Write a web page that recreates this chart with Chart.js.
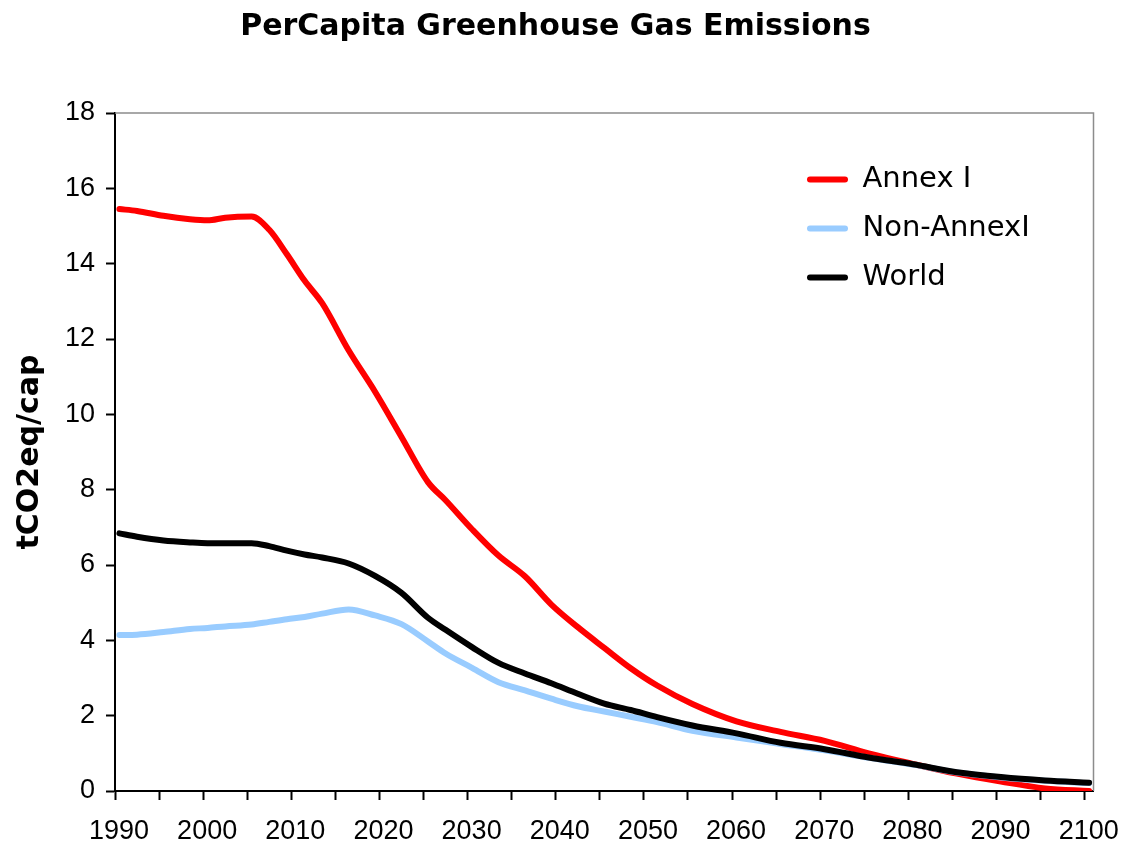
<!DOCTYPE html>
<html>
<head>
<meta charset="utf-8">
<script src="https://cdn.jsdelivr.net/npm/chart.js@4.4.0/dist/chart.umd.min.js"></script>
<style>
  html, body { margin: 0; padding: 0; background: #ffffff; }
  #c { display: block; }
</style>
</head>
<body>
<canvas id="c" width="1130" height="848"></canvas>
<script>
// ---- Data ----
const years = [1990, 1992, 1995, 1998, 2000, 2002, 2005, 2007, 2009, 2011, 2013, 2016, 2019, 2022, 2025, 2027, 2030, 2033, 2036, 2039, 2042, 2045, 2048, 2051, 2055, 2060, 2065, 2070, 2075, 2080, 2085, 2090, 2095, 2100];

const annexI = [15.45, 15.40, 15.27, 15.18, 15.15, 15.22, 15.25, 14.90, 14.25, 13.55, 12.95, 11.70, 10.60, 9.40, 8.20, 7.72, 6.95, 6.25, 5.70, 4.95, 4.35, 3.80, 3.26, 2.80, 2.31, 1.85, 1.57, 1.33, 1.00, 0.72, 0.46, 0.25, 0.07, 0.00];

const nonAnnexI = [4.14, 4.15, 4.22, 4.30, 4.33, 4.37, 4.42, 4.49, 4.56, 4.62, 4.71, 4.82, 4.66, 4.43, 3.97, 3.65, 3.27, 2.89, 2.67, 2.45, 2.25, 2.11, 1.97, 1.83, 1.60, 1.42, 1.25, 1.08, 0.88, 0.70, 0.49, 0.36, 0.27, 0.21];

const world = [6.84, 6.75, 6.65, 6.60, 6.58, 6.58, 6.58, 6.50, 6.38, 6.28, 6.20, 6.04, 5.71, 5.26, 4.60, 4.28, 3.82, 3.40, 3.12, 2.86, 2.58, 2.32, 2.15, 1.96, 1.74, 1.53, 1.28, 1.11, 0.89, 0.71, 0.50, 0.37, 0.28, 0.22];

const seriesNames = ['Annex I', 'Non-AnnexI', 'World'];
const seriesColors = ['#FF0000', '#99CCFF', '#000000'];

const xTickYears = [1990, 1995, 2000, 2005, 2010, 2015, 2020, 2025, 2030, 2035, 2040, 2045, 2050, 2055, 2060, 2065, 2070, 2075, 2080, 2085, 2090, 2095, 2100];
const xLabelYears = [1990, 2000, 2010, 2020, 2030, 2040, 2050, 2060, 2070, 2080, 2090, 2100];
const yTickValues = [0, 2, 4, 6, 8, 10, 12, 14, 16, 18];

const chartTitle = 'PerCapita Greenhouse Gas Emissions';
const yAxisTitle = 'tCO2eq/cap';

// ---- Helpers ----
function pts(values) {
  return years.map((yr, i) => ({ x: yr, y: values[i] }));
}

// Plot-area frame (top and right edges), drawn from the chart area
const framePlugin = {
  id: 'frame',
  beforeDatasetsDraw(chart) {
    const a = chart.chartArea, ctx = chart.ctx;
    ctx.save();
    ctx.strokeStyle = '#8c8c8c';
    ctx.lineWidth = 1.5;
    ctx.beginPath();
    ctx.moveTo(a.left, a.top);
    ctx.lineTo(a.right, a.top);
    ctx.lineTo(a.right, a.bottom);
    ctx.stroke();
    ctx.restore();
  }
};

// Place the legend inside the plot area, upper right
const legendPlace = {
  id: 'legendPlace',
  afterLayout(chart) {
    const lg = chart.legend, a = chart.chartArea;
    if (!lg) return;
    const w = lg.width, h = lg.height;
    lg.left = a.left + 672;
    lg.top = a.top + 32;
    lg.right = lg.left + w;
    lg.bottom = lg.top + h;
  }
};

const datasets = [annexI, nonAnnexI, world].map((vals, i) => ({
  label: seriesNames[i],
  data: pts(vals),
  borderColor: seriesColors[i],
  backgroundColor: seriesColors[i],
  borderWidth: 6,
  pointRadius: 0,
  pointHoverRadius: 0,
  fill: false,
  cubicInterpolationMode: 'monotone',
  borderCapStyle: 'round',
  borderJoinStyle: 'round',
  order: 2 - i
}));

new Chart(document.getElementById('c'), {
  type: 'line',
  data: { datasets },
  plugins: [framePlugin, legendPlace],
  options: {
    responsive: false,
    devicePixelRatio: 1,
    animation: false,
    events: [],
    layout: { padding: { left: 12, right: 31, top: 0, bottom: 0 } },
    plugins: {
      tooltip: { enabled: false },
      title: {
        display: true,
        text: chartTitle,
        color: '#000',
        font: { family: 'DejaVu Sans', size: 30, weight: 'bold' },
        padding: { top: 9, bottom: 68 }
      },
      legend: {
        position: 'chartArea',
        align: 'start',
        labels: {
          boxWidth: 41,
          boxHeight: 6,
          padding: 20,
          color: '#000',
          useBorderRadius: true,
          borderRadius: 3,
          font: { family: 'DejaVu Sans', size: 29 },
          sort: (a, b) => a.datasetIndex - b.datasetIndex,
          generateLabels(chart) {
            const items = Chart.defaults.plugins.legend.labels.generateLabels(chart);
            return items.map(it => Object.assign(it, { lineWidth: 0 }));
          }
        }
      }
    },
    scales: {
      x: {
        type: 'linear',
        min: xTickYears[0] - 0.5,
        max: xTickYears[xTickYears.length - 1] + 0.5,
        afterBuildTicks(scale) {
          scale.ticks = xTickYears.map(yr => ({ value: yr - 0.5 }));
        },
        afterFit(scale) { scale.height = 57; },
        ticks: {
          autoSkip: false,
          maxRotation: 0,
          minRotation: 0,
          padding: 15,
          labelOffset: 4,
          color: '#000',
          font: { family: 'Liberation Sans', size: 27 },
          callback: (v) => {
            const yr = v + 0.5;
            return xLabelYears.includes(yr) ? String(yr) : '';
          }
        },
        grid: { drawOnChartArea: false, drawTicks: true, tickLength: 9, tickColor: '#000', tickWidth: 2 },
        border: { color: '#000', width: 2 }
      },
      y: {
        min: yTickValues[0],
        max: yTickValues[yTickValues.length - 1],
        afterBuildTicks(scale) {
          scale.ticks = yTickValues.map(v => ({ value: v }));
        },
        afterFit(scale) { scale.width = 103; },
        ticks: {
          padding: 11,
          color: '#000',
          font: { family: 'Liberation Sans', size: 27 }
        },
        grid: { drawOnChartArea: false, drawTicks: true, tickLength: 9, tickColor: '#000', tickWidth: 2 },
        border: { color: '#000', width: 2 },
        title: {
          display: true,
          text: yAxisTitle,
          color: '#000',
          font: { family: 'DejaVu Sans', size: 30, weight: 'bold' },
          padding: { top: 0, bottom: 0 }
        }
      }
    }
  }
});
</script>
</body>
</html>
